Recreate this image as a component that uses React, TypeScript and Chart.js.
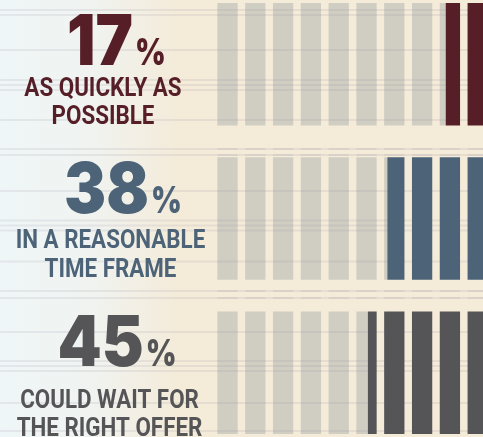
import React, { useEffect, useRef } from "react";
import { Chart, registerables } from "chart.js";
Chart.register(...registerables);

// ---- data ----
const categories = ["As quickly as possible", "In a reasonable time frame", "Could wait for the right offer"];
const labelLines = [
  ["AS QUICKLY AS", "POSSIBLE"],
  ["IN A REASONABLE", "TIME FRAME"],
  ["COULD WAIT FOR", "THE RIGHT OFFER"],
];
const shares = [17, 38, 45];
const total = 100;
const rest = shares.map((v) => total - v);
const stripeSteps = [0, 10, 20, 30, 40, 50, 60, 70, 80, 90];

// ---- style ----
const shareColors = ["#561f28", "#4d6478", "#555557"];
const trackColor = "#d0cec3";
const ruleColor = "rgba(130,120,150,0.12)";
const CANVAS_W = 500;
const CANVAS_H = 470;
const CANVAS_TOP = -13;
const stripeFrom = 0.85;
const stripeTo = 8.15;
const rulesPage = [10, 15, 50, 80, 85, 90, 120, 149, 155, 191, 220.5, 225.5, 230.5, 261.5, 291, 298, 332, 361, 366, 371, 403, 431];
const numberBaseline = [65, 212.5, 366];
const numberCenter = [116.5, 123, 117];
const lineBaselines = [[96, 124], [248, 277], [408, 436]];
const lineCenter = [103, 110.5, 109.5];
const condense = 0.86;
const numCondense = 0.9;
const pctCondense = 0.8;
const numFont = "900 70px Inter";
const pctFont = "900 37px Inter";

function drawRules(ctx: CanvasRenderingContext2D, w: number) {
  ctx.save();
  ctx.fillStyle = ruleColor;
  for (const y of rulesPage) {
    ctx.fillRect(0, y - CANVAS_TOP - 1, w, 2);
  }
  ctx.restore();
}

const decor = {
  id: "decor",
  beforeDraw(chart: any) {
    const { ctx, width, height } = chart;
    ctx.save();
    const g = ctx.createLinearGradient(0, 0, 483, 0);
    g.addColorStop(0, "#eff6f7");
    g.addColorStop(0.19, "#f0f3f0");
    g.addColorStop(0.37, "#f4ebd9");
    g.addColorStop(1, "#f4ebd9");
    ctx.fillStyle = g;
    ctx.fillRect(0, 0, width, height);
    ctx.restore();
    drawRules(ctx, width);
  },
  beforeDatasetsDraw(chart: any) {
    const { ctx, chartArea } = chart;
    const x = chart.scales.x;
    ctx.save();
    ctx.beginPath();
    for (const s of stripeSteps) {
      const a = x.getPixelForValue(total - (s + stripeFrom));
      const b = x.getPixelForValue(total - (s + stripeTo));
      ctx.rect(Math.min(a, b), chartArea.top, Math.abs(b - a), chartArea.bottom - chartArea.top);
    }
    ctx.clip();
  },
  afterDatasetDraw(chart: any, args: any) {
    if (args.index === 1) drawRules(chart.ctx, chart.width);
  },
  afterDatasetsDraw(chart: any) {
    chart.ctx.restore();
  },
  afterDraw(chart: any) {
    const ctx = chart.ctx as CanvasRenderingContext2D;
    shares.forEach((v, i) => {
      ctx.save();
      ctx.fillStyle = shareColors[i];
      ctx.textBaseline = "alphabetic";
      ctx.textAlign = "left";
      const numText = String(v);
      ctx.font = numFont;
      const w1 = ctx.measureText(numText).width * numCondense;
      ctx.font = pctFont;
      const w2 = ctx.measureText("%").width * pctCondense;
      const gap = 2;
      const x0 = numberCenter[i] - (w1 + w2 + gap) / 2;
      const by = numberBaseline[i] - CANVAS_TOP;
      ctx.save();
      ctx.translate(x0, by);
      ctx.scale(numCondense, 1);
      ctx.font = numFont;
      ctx.fillText(numText, 0, 0);
      ctx.restore();
      ctx.save();
      ctx.translate(x0 + w1 + gap, by);
      ctx.scale(pctCondense, 1);
      ctx.font = pctFont;
      ctx.fillText("%", 0, 0);
      ctx.restore();
      ctx.font = "bold 26px Roboto";
      ctx.textAlign = "center";
      labelLines[i].forEach((line, j) => {
        ctx.save();
        ctx.translate(lineCenter[i], lineBaselines[i][j] - CANVAS_TOP);
        ctx.scale(condense, 1);
        ctx.fillText(line, 0, 0);
        ctx.restore();
      });
      ctx.restore();
    });
  },
};

export default function App() {
  const ref = useRef<HTMLCanvasElement>(null);
  useEffect(() => {
    if (!ref.current) return;
    const chart = new Chart(ref.current, {
      type: "bar",
      data: {
        labels: categories,
        datasets: [
          {
            label: "Share",
            data: shares,
            backgroundColor: shareColors,
            borderWidth: 0,
            barPercentage: 0.794,
            categoryPercentage: 1,
            stack: "s",
          },
          {
            label: "Rest",
            data: rest,
            backgroundColor: trackColor,
            borderWidth: 0,
            barPercentage: 0.794,
            categoryPercentage: 1,
            stack: "s",
          },
        ],
      },
      options: {
        indexAxis: "y",
        responsive: false,
        animation: false,
        devicePixelRatio: 1,
        layout: { padding: { left: 215, right: 7, top: 0, bottom: 7 } },
        scales: {
          x: { display: false, stacked: true, reverse: true, min: 0, max: total },
          y: { display: false, stacked: true },
        },
        plugins: { legend: { display: false }, tooltip: { enabled: false } },
      } as any,
      plugins: [decor as any],
    });
    return () => chart.destroy();
  }, []);
  return (
    <div style={{ position: "fixed", left: 0, top: 0, width: 483, height: 437, overflow: "hidden", background: "#f4ebd9" }}>
      <canvas
        ref={ref}
        width={CANVAS_W}
        height={CANVAS_H}
        style={{ position: "absolute", left: 0, top: CANVAS_TOP, width: CANVAS_W, height: CANVAS_H }}
      />
    </div>
  );
}
